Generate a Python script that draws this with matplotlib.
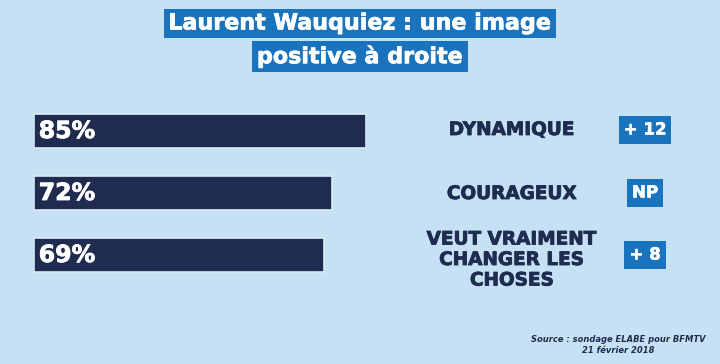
import matplotlib
matplotlib.use("Agg")
import matplotlib.pyplot as plt
import matplotlib.patheffects as pe
import numpy as np

# data
labels = ["DYNAMIQUE", "COURAGEUX", "VEUT VRAIMENT\nCHANGER LES\nCHOSES"]
values = [85, 72, 69]
changes = ["+ 12", "NP", "+ 8"]
title_lines = ["Laurent Wauquiez : une image", "positive à droite"]
source = "Source : sondage ELABE pour BFMTV\n21 février 2018"

BG = "#c5e1f3"
NAVY = "#1f2c50"
BLUE = "#1a74bd"
BASE = -41.5  # bars start from a truncated baseline, like the original graphic

W, H = 720, 364
fig = plt.figure(figsize=(W / 100, H / 100), dpi=100)
fig.patch.set_facecolor(BG)
plt.rcParams["font.family"] = ["DejaVu Sans"]


def heavy(color, lw=0.6):
    # thicken the glyphs a little, the original uses a black-weight font
    return [pe.withStroke(linewidth=lw, foreground=color)]


# bar panel
ax = fig.add_axes([34 / W, 1 - 286 / H, (366 - 34) / W, 186 / H])
ax.set_facecolor("none")
y = np.arange(len(values))
ax.barh(y, np.array(values) - BASE, left=BASE, height=0.54,
        color=NAVY, edgecolor="#d9ecf8", linewidth=1.2)
for yi, v in zip(y, values):
    ax.text(BASE + 1.8, yi, "%d%%" % v, color="white", fontsize=17,
            fontweight="bold", va="center", ha="left",
            path_effects=heavy("white"))
ax.set_xlim(BASE, max(values))
ax.set_ylim(len(values) - 0.5, -0.5)
ax.axis("off")

# labels and change badges
label_y = [130, 194, 260]
badge_y = [129.5, 192.5, 254.5]
for lab, ly in zip(labels, label_y):
    fig.text(512 / W, 1 - ly / H, lab, color=NAVY, fontsize=13.3,
             fontweight="bold", ha="center", va="center", linespacing=1.18,
             path_effects=heavy(NAVY))
for ch, by in zip(changes, badge_y):
    fig.text(645 / W, 1 - by / H, ch, color="white", fontsize=12,
             fontweight="bold", ha="center", va="center",
             path_effects=heavy("white", 0.4),
             bbox=dict(boxstyle="square,pad=0.3", facecolor=BLUE, edgecolor="none"))

# title, one blue box per line
for line, ty in zip(title_lines, [23.5, 56.5]):
    fig.text(360 / W, 1 - ty / H, line, color="white", fontsize=16,
             fontweight="bold", ha="center", va="center",
             path_effects=heavy("white", 0.5),
             bbox=dict(boxstyle="square,pad=0.2", facecolor=BLUE, edgecolor="none"))

fig.text(618 / W, 1 - 345 / H, source, color=NAVY, fontsize=6,
         fontweight="bold", fontstyle="italic", ha="center", va="center",
         linespacing=1.35)

fig.savefig("out.png", dpi=100, facecolor=BG)
